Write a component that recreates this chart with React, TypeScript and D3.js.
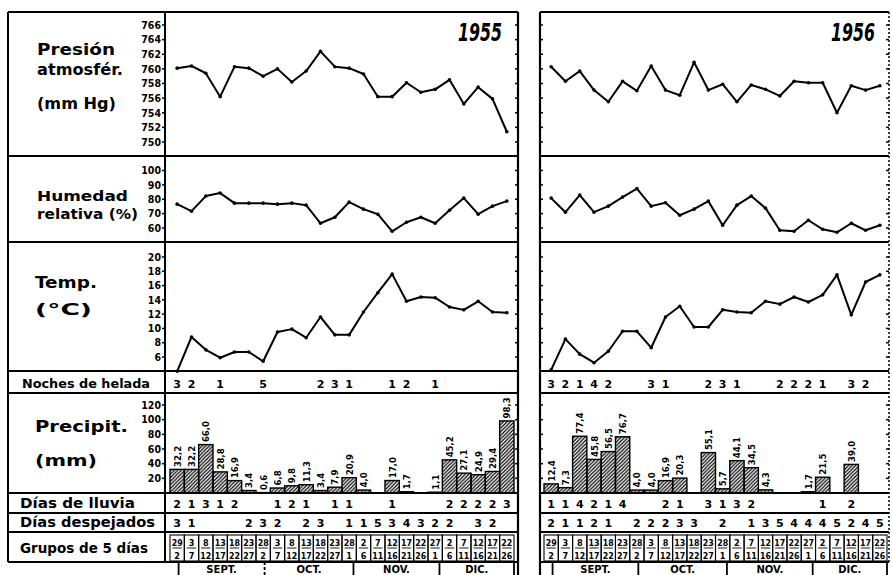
import React, { useEffect, useRef } from 'react';
import * as d3 from 'd3';

// grupos de 5 días (día inicial / día final)
const groupStart = [29, 3, 8, 13, 18, 23, 28, 3, 8, 13, 18, 23, 28, 2, 7, 12, 17, 22, 27, 2, 7, 12, 17, 22];
const groupEnd = [2, 7, 12, 17, 22, 27, 2, 7, 12, 17, 22, 27, 1, 6, 11, 16, 21, 26, 1, 6, 11, 16, 21, 26];
const monthNames = ['SEPT.', 'OCT.', 'NOV.', 'DIC.'];
// primer día de cada mes, contado desde el 29 de agosto
const monthFirstDay = [3, 33, 64, 94, 120];

const pressure1955 = [760.1, 760.4, 759.4, 756.2, 760.3, 760.1, 759.0, 760.0, 758.2, 759.7, 762.4, 760.3, 760.1, 759.3, 756.2, 756.2, 758.1, 756.8, 757.2, 758.5, 755.2, 757.5, 755.9, 751.4];
const pressure1956 = [760.3, 758.3, 759.7, 757.1, 755.5, 758.3, 757.0, 760.4, 757.1, 756.4, 760.9, 757.1, 757.9, 755.5, 757.8, 757.2, 756.3, 758.3, 758.1, 758.1, 754.0, 757.7, 757.1, 757.7];

const humidity1955 = [76.6, 71.7, 82.2, 84.3, 77.3, 77.3, 77.3, 76.6, 77.3, 75.9, 63.3, 67.5, 78.0, 73.1, 69.6, 57.7, 64.0, 67.5, 63.3, 72.4, 80.8, 69.6, 75.2, 78.7];
const humidity1956 = [80.8, 71.0, 82.9, 71.0, 75.2, 81.5, 87.4, 75.2, 77.6, 68.9, 73.1, 78.7, 61.9, 75.9, 82.2, 73.8, 58.4, 57.7, 65.4, 59.1, 57.0, 63.3, 58.4, 61.9];

const temp1955 = [4.0, 8.8, 7.0, 5.9, 6.7, 6.7, 5.4, 9.5, 9.9, 8.7, 11.6, 9.1, 9.1, 12.3, 15.0, 17.6, 13.8, 14.4, 14.3, 13.0, 12.6, 13.8, 12.3, 12.2];
const temp1956 = [4.2, 8.5, 6.4, 5.2, 6.8, 9.6, 9.6, 7.3, 11.6, 13.1, 10.2, 10.2, 12.6, 12.3, 12.2, 13.8, 13.4, 14.4, 13.7, 14.7, 17.5, 11.9, 16.5, 17.5];

const frost1955 = [3, 2, null, 1, null, null, 5, null, null, null, 2, 3, 1, null, null, 1, 2, null, 1, null, null, null, null, null];
const frost1956 = [3, 2, 1, 4, 2, null, null, 3, 1, null, null, 2, 3, 1, null, null, 2, 2, 2, 1, null, 3, 2, null];

const precip1955 = [32.2, 32.2, 66.0, 28.8, 16.9, 3.4, 0.6, 6.8, 9.8, 11.3, 3.4, 7.9, 20.9, 4.0, null, 17.0, 1.7, null, 1.1, 45.2, 27.1, 24.9, 29.4, 98.3];
const precip1956 = [12.4, 7.3, 77.4, 45.8, 56.5, 76.7, 4.0, 4.0, 16.9, 20.3, null, 55.1, 5.7, 44.1, 34.5, 4.3, null, null, 1.7, 21.5, null, 39.0, null, null];

const rain1955 = [2, 1, 3, 1, 2, null, null, 1, 2, 1, null, 1, 1, null, null, 1, null, null, null, 2, 2, 2, 2, 3];
const rain1956 = [1, 1, 4, 2, 1, 4, null, null, 2, 1, null, 3, 1, 3, 2, null, null, null, null, 1, null, 2, null, null];

const clear1955 = [3, 1, null, null, null, 2, 3, 2, null, 2, 3, null, 1, 1, 5, 3, 4, 3, 2, 2, null, 3, 2, null];
const clear1956 = [2, 1, 1, 2, 1, null, 2, 2, 2, 3, 3, null, 2, null, 1, 3, 5, 4, 4, 4, 5, 2, 4, 5];

const pressureTicks = [750, 752, 754, 756, 758, 760, 762, 764, 766];
const humidityTicks = [60, 70, 80, 90, 100];
const tempTicks = [6, 8, 10, 12, 14, 16, 18, 20];
const precipTicks = [20, 40, 60, 80, 100, 120];

const FONT = '"DejaVu Sans", sans-serif';
const FONT_C = '"DejaVu Sans Condensed", "DejaVu Sans", sans-serif';

const ClimateChart = () => {
    const ref = useRef<SVGSVGElement>(null);

    useEffect(() => {
        const svg = d3.select(ref.current);
        svg.selectAll('*').remove();

        // filas (límites verticales)
        const rows = [12, 156, 242, 371, 393, 493, 513, 532, 562];

        const yPres = d3.scaleLinear().domain([750, 766]).range([142, 25]);
        const yHum = d3.scaleLinear().domain([60, 100]).range([228, 170.5]);
        const yTemp = d3.scaleLinear().domain([6, 20]).range([357, 257]);
        const yPrec = d3.scaleLinear().domain([0, 120]).range([493, 405]);

        const defs = svg.append('defs');
        const pat = defs.append('pattern')
            .attr('id', 'hatch')
            .attr('patternUnits', 'userSpaceOnUse')
            .attr('width', 3.6)
            .attr('height', 3.6);
        pat.append('path')
            .attr('d', 'M-0.9,0.9 l1.8,-1.8 M0,3.6 l3.6,-3.6 M2.7,4.5 l1.8,-1.8')
            .attr('stroke', '#000')
            .attr('stroke-width', 1.2);

        svg.append('rect').attr('width', 892).attr('height', 575).attr('fill', '#fff');

        // etiquetas de la columna izquierda
        const labels: [string, number, number, number, number][] = [
            ['Presión', 37, 55, 78, 16],
            ['atmosfér.', 37, 75, 86, 16],
            ['(mm Hg)', 37, 109, 79, 16],
            ['Humedad', 37, 201, 91, 14],
            ['relativa (%)', 37, 219, 101, 14],
            ['Temp.', 35, 288, 62, 16],
            ['(°C)', 35, 315, 57, 16],
            ['Noches de helada', 22, 388, 128, 13],
            ['Precipit.', 35, 432, 93, 16],
            ['(mm)', 35, 466, 62, 16],
            ['Días de lluvia', 20, 508, 115, 14],
            ['Días despejados', 20, 527, 135, 14],
            ['Grupos de 5 días', 20, 553, 128, 14],
        ];
        svg.append('g').selectAll('text')
            .data(labels)
            .enter()
            .append('text')
            .attr('x', d => d[1])
            .attr('y', d => d[2])
            .attr('textLength', d => d[3])
            .attr('lengthAdjust', 'spacingAndGlyphs')
            .attr('font-family', FONT)
            .attr('font-weight', 'bold')
            .attr('font-size', d => d[4])
            .text(d => d[0]);

        // números del eje izquierdo
        const axisX = 165;
        const axisTicks: [number[], d3.ScaleLinear<number, number>][] = [
            [pressureTicks, yPres], [humidityTicks, yHum], [tempTicks, yTemp], [precipTicks, yPrec],
        ];
        axisTicks.forEach(([ticks, scale]) => {
            const g = svg.append('g');
            g.selectAll('text').data(ticks).enter().append('text')
                .attr('x', axisX - 4)
                .attr('y', d => scale(d))
                .attr('dy', '0.36em')
                .attr('text-anchor', 'end')
                .attr('font-family', FONT_C)
                .attr('font-weight', 'bold')
                .attr('font-size', 10.5)
                .text(d => d);
            g.selectAll('line').data(ticks).enter().append('line')
                .attr('x1', axisX - 3).attr('x2', axisX)
                .attr('y1', d => scale(d)).attr('y2', d => scale(d))
                .attr('stroke', '#000').attr('stroke-width', 1.5);
        });

        const panels = [
            {
                year: '1955', x0: 170, x1: 514, left: 165, right: 518, dashedOct: true,
                pressure: pressure1955, humidity: humidity1955, temp: temp1955,
                frost: frost1955, precip: precip1955, rain: rain1955, clear: clear1955,
            },
            {
                year: '1956', x0: 544, x1: 887, left: 540, right: 889, dashedOct: false,
                pressure: pressure1956, humidity: humidity1956, temp: temp1956,
                frost: frost1956, precip: precip1956, rain: rain1956, clear: clear1956,
            },
        ];

        panels.forEach(p => {
            const g = svg.append('g');
            const x = d3.scaleBand<number>().domain(d3.range(24)).range([p.x0, p.x1]).padding(0);
            const bw = x.bandwidth();
            const cx = (i: number) => (x(i) as number) + bw / 2;
            const xDay = d3.scaleLinear().domain([0, 120]).range([p.x0, p.x1]);

            // barras de precipitación
            const bars = p.precip.map((v, i) => ({ v, i })).filter(d => d.v !== null) as { v: number, i: number }[];
            g.selectAll('rect.bar').data(bars).enter().append('rect')
                .attr('class', 'bar')
                .attr('x', d => x(d.i) as number)
                .attr('width', bw)
                .attr('y', d => yPrec(d.v))
                .attr('height', d => yPrec(0) - yPrec(d.v))
                .attr('fill', 'url(#hatch)')
                .attr('stroke', '#000')
                .attr('stroke-width', 1.4);
            g.selectAll('text.plab').data(bars).enter().append('text')
                .attr('class', 'plab')
                .attr('transform', d => `translate(${cx(d.i) + 3.5},${yPrec(d.v) - 2.5}) rotate(-90)`)
                .attr('font-family', FONT_C)
                .attr('font-weight', 'bold')
                .attr('font-size', 9.5)
                .text(d => d3.format('.1f')(d.v).replace('.', ','));

            // líneas
            const series: [number[], d3.ScaleLinear<number, number>][] = [
                [p.pressure, yPres], [p.humidity, yHum], [p.temp, yTemp],
            ];
            series.forEach(([vals, scale]) => {
                const line = d3.line<number>().x((d, i) => cx(i)).y(d => scale(d));
                g.append('path')
                    .attr('d', line(vals))
                    .attr('fill', 'none')
                    .attr('stroke', '#000')
                    .attr('stroke-width', 2)
                    .attr('stroke-linejoin', 'round');
                g.selectAll(null).data(vals).enter().append('circle')
                    .attr('cx', (d, i) => cx(i))
                    .attr('cy', d => scale(d))
                    .attr('r', 1.8)
                    .attr('fill', '#000');
            });

            // filas numéricas
            const numRows: [(number | null)[], number][] = [[p.frost, 388], [p.rain, 508], [p.clear, 527]];
            numRows.forEach(([vals, yb]) => {
                const items = vals.map((v, i) => ({ v, i })).filter(d => d.v !== null);
                g.selectAll(null).data(items).enter().append('text')
                    .attr('x', d => cx(d.i))
                    .attr('y', yb)
                    .attr('text-anchor', 'middle')
                    .attr('font-family', FONT)
                    .attr('font-weight', 'bold')
                    .attr('font-size', 11)
                    .text(d => d.v as number);
            });

            // grupos de 5 días
            const idx = d3.range(24);
            g.selectAll('rect.cell').data(idx).enter().append('rect')
                .attr('class', 'cell')
                .attr('x', i => x(i) as number)
                .attr('y', 535)
                .attr('width', bw)
                .attr('height', 26)
                .attr('fill', 'none')
                .attr('stroke', '#000')
                .attr('stroke-width', 1.1);
            g.selectAll('line.frac').data(idx).enter().append('line')
                .attr('class', 'frac')
                .attr('x1', i => (x(i) as number) + 2.5)
                .attr('x2', i => (x(i) as number) + bw - 2.5)
                .attr('y1', 548).attr('y2', 548)
                .attr('stroke', '#000').attr('stroke-width', 0.9);
            const cellText = (vals: number[], yb: number) => {
                g.selectAll(null).data(vals).enter().append('text')
                    .attr('x', (d, i) => cx(i))
                    .attr('y', yb)
                    .attr('text-anchor', 'middle')
                    .attr('font-family', FONT_C)
                    .attr('font-weight', 'bold')
                    .attr('font-size', 9)
                    .attr('textLength', d => (d >= 10 ? 11 : null) as any)
                    .attr('lengthAdjust', 'spacingAndGlyphs')
                    .text(d => d);
            };
            cellText(groupStart, 546);
            cellText(groupEnd, 559);

            // meses
            g.selectAll('line.month').data(monthFirstDay).enter().append('line')
                .attr('class', 'month')
                .attr('x1', d => xDay(d)).attr('x2', d => xDay(d))
                .attr('y1', 562).attr('y2', 575)
                .attr('stroke', '#000')
                .attr('stroke-width', 1.8)
                .attr('stroke-dasharray', (d, i) => (p.dashedOct && i === 1 ? '3,2' : null) as any);
            g.selectAll('text.month').data(monthNames).enter().append('text')
                .attr('class', 'month')
                .attr('x', (d, i) => (xDay(monthFirstDay[i]) + xDay(monthFirstDay[i + 1])) / 2)
                .attr('y', 572.5)
                .attr('text-anchor', 'middle')
                .attr('font-family', FONT)
                .attr('font-weight', 'bold')
                .attr('font-size', 10)
                .text(d => d);

            // año
            g.append('text')
                .attr('x', p.year === '1955' ? 502 : 875)
                .attr('y', 41)
                .attr('text-anchor', 'end')
                .attr('font-family', FONT)
                .attr('font-weight', 'bold')
                .attr('font-style', 'italic')
                .attr('font-size', 24)
                .attr('textLength', 44)
                .attr('lengthAdjust', 'spacingAndGlyphs')
                .text(p.year);

            // marco
            const lineL = p.year === '1955' ? 8 : p.left;
            rows.forEach(y => {
                g.append('line')
                    .attr('x1', lineL).attr('x2', p.right)
                    .attr('y1', y).attr('y2', y)
                    .attr('stroke', '#000').attr('stroke-width', 2);
            });
            if (p.year === '1955') {
                g.append('line').attr('x1', 8).attr('x2', 8).attr('y1', 12).attr('y2', 562)
                    .attr('stroke', '#000').attr('stroke-width', 2);
                g.append('line').attr('x1', p.left).attr('x2', p.left).attr('y1', 12).attr('y2', 562)
                    .attr('stroke', '#000').attr('stroke-width', 2);
                g.append('line').attr('x1', p.right).attr('x2', p.right).attr('y1', 12).attr('y2', 575)
                    .attr('stroke', '#000').attr('stroke-width', 2.2);
            } else {
                g.append('line').attr('x1', p.left).attr('x2', p.left).attr('y1', 12).attr('y2', 575)
                    .attr('stroke', '#000').attr('stroke-width', 2.2);
                g.append('line').attr('x1', p.right).attr('x2', p.right).attr('y1', 12).attr('y2', 562)
                    .attr('stroke', '#000').attr('stroke-width', 1.5)
                    .attr('stroke-dasharray', '2,2');
            }

            // marcas en los bordes del panel
            const edgeTicks: { x: number, dir: number }[] = p.year === '1955'
                ? [{ x: p.right, dir: -1 }]
                : [{ x: p.left, dir: 1 }, { x: p.right, dir: -1 }];
            edgeTicks.forEach(e => {
                axisTicks.forEach(([ticks, scale]) => {
                    g.selectAll(null).data(ticks).enter().append('line')
                        .attr('x1', e.x).attr('x2', e.x + e.dir * 3)
                        .attr('y1', d => scale(d)).attr('y2', d => scale(d))
                        .attr('stroke', '#000').attr('stroke-width', 1.5);
                });
            });
        });
    }, []);

    return (
        <div style={{ position: 'absolute', left: 0, top: 0 }}>
            <svg ref={ref} width={892} height={575} style={{ display: 'block' }}></svg>
        </div>
    );
};

export default function App() {
    return <ClimateChart />;
}
